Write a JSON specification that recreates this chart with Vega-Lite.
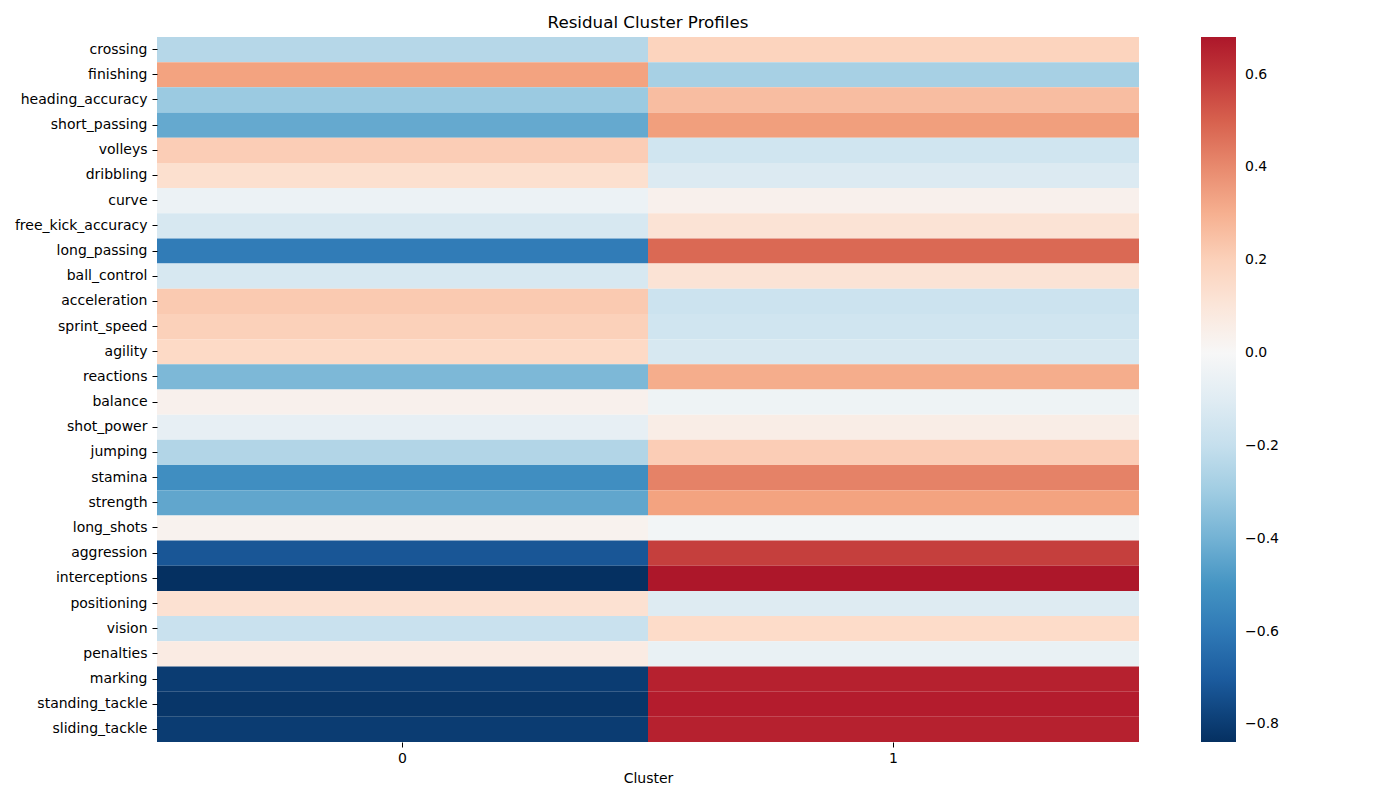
{
  "$schema": "https://vega.github.io/schema/vega-lite/v6.json",
  "autosize": {"type": "none"},
  "width": 982,
  "height": 705,
  "padding": {"left": 157, "top": 37, "right": 261, "bottom": 58},
  "background": "white",
  "title": {"text": "Residual Cluster Profiles", "fontSize": 16.7, "fontWeight": "normal", "font": "DejaVu Sans", "color": "black", "offset": 5},
  "data": {"values": [
    {"feature": "crossing", "cluster": "0", "value": -0.24}, {"feature": "crossing", "cluster": "1", "value": 0.19},
    {"feature": "finishing", "cluster": "0", "value": 0.34}, {"feature": "finishing", "cluster": "1", "value": -0.28},
    {"feature": "heading_accuracy", "cluster": "0", "value": -0.31}, {"feature": "heading_accuracy", "cluster": "1", "value": 0.26},
    {"feature": "short_passing", "cluster": "0", "value": -0.43}, {"feature": "short_passing", "cluster": "1", "value": 0.35},
    {"feature": "volleys", "cluster": "0", "value": 0.21}, {"feature": "volleys", "cluster": "1", "value": -0.17},
    {"feature": "dribbling", "cluster": "0", "value": 0.14}, {"feature": "dribbling", "cluster": "1", "value": -0.12},
    {"feature": "curve", "cluster": "0", "value": -0.05}, {"feature": "curve", "cluster": "1", "value": 0.04},
    {"feature": "free_kick_accuracy", "cluster": "0", "value": -0.14}, {"feature": "free_kick_accuracy", "cluster": "1", "value": 0.12},
    {"feature": "long_passing", "cluster": "0", "value": -0.59}, {"feature": "long_passing", "cluster": "1", "value": 0.48},
    {"feature": "ball_control", "cluster": "0", "value": -0.14}, {"feature": "ball_control", "cluster": "1", "value": 0.12},
    {"feature": "acceleration", "cluster": "0", "value": 0.22}, {"feature": "acceleration", "cluster": "1", "value": -0.18},
    {"feature": "sprint_speed", "cluster": "0", "value": 0.20}, {"feature": "sprint_speed", "cluster": "1", "value": -0.17},
    {"feature": "agility", "cluster": "0", "value": 0.17}, {"feature": "agility", "cluster": "1", "value": -0.14},
    {"feature": "reactions", "cluster": "0", "value": -0.38}, {"feature": "reactions", "cluster": "1", "value": 0.31},
    {"feature": "balance", "cluster": "0", "value": 0.04}, {"feature": "balance", "cluster": "1", "value": -0.04},
    {"feature": "shot_power", "cluster": "0", "value": -0.07}, {"feature": "shot_power", "cluster": "1", "value": 0.06},
    {"feature": "jumping", "cluster": "0", "value": -0.25}, {"feature": "jumping", "cluster": "1", "value": 0.21},
    {"feature": "stamina", "cluster": "0", "value": -0.52}, {"feature": "stamina", "cluster": "1", "value": 0.42},
    {"feature": "strength", "cluster": "0", "value": -0.44}, {"feature": "strength", "cluster": "1", "value": 0.34},
    {"feature": "long_shots", "cluster": "0", "value": 0.03}, {"feature": "long_shots", "cluster": "1", "value": -0.02},
    {"feature": "aggression", "cluster": "0", "value": -0.72}, {"feature": "aggression", "cluster": "1", "value": 0.58},
    {"feature": "interceptions", "cluster": "0", "value": -0.838}, {"feature": "interceptions", "cluster": "1", "value": 0.681},
    {"feature": "positioning", "cluster": "0", "value": 0.13}, {"feature": "positioning", "cluster": "1", "value": -0.11},
    {"feature": "vision", "cluster": "0", "value": -0.19}, {"feature": "vision", "cluster": "1", "value": 0.16},
    {"feature": "penalties", "cluster": "0", "value": 0.07}, {"feature": "penalties", "cluster": "1", "value": -0.06},
    {"feature": "marking", "cluster": "0", "value": -0.80}, {"feature": "marking", "cluster": "1", "value": 0.65},
    {"feature": "standing_tackle", "cluster": "0", "value": -0.82}, {"feature": "standing_tackle", "cluster": "1", "value": 0.66},
    {"feature": "sliding_tackle", "cluster": "0", "value": -0.80}, {"feature": "sliding_tackle", "cluster": "1", "value": 0.65}
  ]},
  "mark": {"type": "rect"},
  "encoding": {
    "x": {"field": "cluster", "type": "nominal", "sort": ["0", "1"],
      "axis": {"title": "Cluster", "labelAngle": 0, "domain": false, "tickSize": 5, "tickColor": "black", "labelPadding": 4, "titlePadding": 6}},
    "y": {"field": "feature", "type": "nominal", "sort": null,
      "axis": {"title": null, "domain": false, "tickSize": 5, "tickColor": "black", "labelPadding": 5}},
    "color": {"field": "value", "type": "quantitative",
      "scale": {"type": "linear", "nice": false, "zero": false, "interpolate": "rgb",
        "domain": [-0.838, -0.6704, -0.5028, -0.3352, -0.1676, 0, 0.1676, 0.3352, 0.5028, 0.6704, 0.681],
        "range": ["#053061", "#2166ac", "#4393c3", "#92c5de", "#d1e5f0", "#f7f7f7", "#fddbc7", "#f4a582", "#d6604d", "#b2182b", "#ad172a"]},
      "legend": {"orient": "none", "legendX": 1044, "legendY": 0, "direction": "vertical", "title": null,
        "gradientLength": 705, "gradientThickness": 35, "values": [-0.8, -0.6, -0.4, -0.2, 0, 0.2, 0.4, 0.6],
        "format": ".1f", "labelFontSize": 14, "labelColor": "black", "labelOffset": 9, "labelFont": "DejaVu Sans", "gradientStrokeWidth": 0}}
  },
  "config": {
    "font": "DejaVu Sans",
    "view": {"stroke": null},
    "axis": {"labelFontSize": 14, "labelColor": "black", "titleFontSize": 14, "titleFontWeight": "normal", "titleColor": "black", "labelFont": "DejaVu Sans", "titleFont": "DejaVu Sans"}
  }
}
